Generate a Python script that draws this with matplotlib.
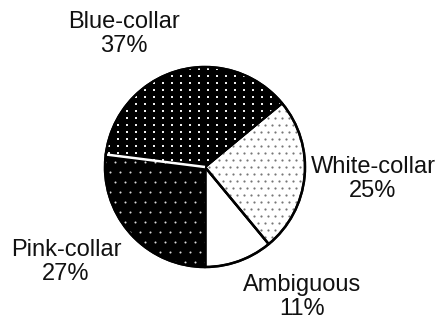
import numpy as np
import matplotlib.pyplot as plt
from matplotlib.patches import Circle

plt.rcParams['font.family'] = ['Liberation Sans', 'DejaVu Sans']

labels = ['Ambiguous', 'White-collar', 'Blue-collar', 'Pink-collar']
shares = [11, 25, 37, 27]
label_pos = [(0.97, -1.30), (1.68, -0.12), (-0.81, 1.33), (-1.39, -0.95)]

fig = plt.figure(figsize=(4.43, 3.20), dpi=100)
ax = fig.add_axes([0, 0, 1, 1])

wedges, _ = ax.pie(shares, startangle=-90, counterclock=True, radius=1,
                   colors=['white', 'white', 'black', 'black'],
                   wedgeprops=dict(edgecolor='black', linewidth=1.6))

# pie() sets its own limits, so fix the view afterwards
ax.set_xlim(-2.05, 2.38)
ax.set_ylim(-1.53, 1.67)
ax.set_aspect('equal')
ax.axis('off')


def dot_fill(wedge, dx, dy, color, size, stagger=False, marker='o'):
    xs, ys = [], []
    for j, y in enumerate(np.arange(-1.05, 1.06, dy)):
        off = dx / 2 if (stagger and j % 2) else 0
        for x in np.arange(-1.05, 1.06, dx):
            xs.append(x + off)
            ys.append(y)
    pts = ax.scatter(xs, ys, s=size, c=color, marker=marker, linewidths=0, zorder=3)
    pts.set_clip_path(wedge)


bar = [(-0.5, -1.2), (0.5, -1.2), (0.5, 1.2), (-0.5, 1.2)]
dot_fill(wedges[1], 0.07, 0.07, '#777777', 2.5, stagger=True)
dot_fill(wedges[2], 0.09, 0.07, '#eeeeee', 4.0, marker=bar)
dot_fill(wedges[3], 0.10, 0.10, '#d8d8d8', 2.2, stagger=True)

# radial boundaries; the one between the two dark slices is drawn white
edges = np.cumsum([0] + shares[:-1])
for k, start in enumerate(edges):
    ang = np.deg2rad(-90 + start * 3.6)
    col = 'white' if labels[k] == 'Pink-collar' else 'black'
    ax.plot([0, np.cos(ang)], [0, np.sin(ang)], color=col, lw=1.8, zorder=4,
            solid_capstyle='butt')

ax.add_patch(Circle((0, 0), 1, fill=False, edgecolor='black', lw=1.8, zorder=5))

for name, pct, (x, y) in zip(labels, shares, label_pos):
    ax.text(x, y, f'{name}\n{pct}%', ha='center', va='center', fontsize=17,
            linespacing=1.1, color='#111111')

fig.savefig('out.png', dpi=100)
